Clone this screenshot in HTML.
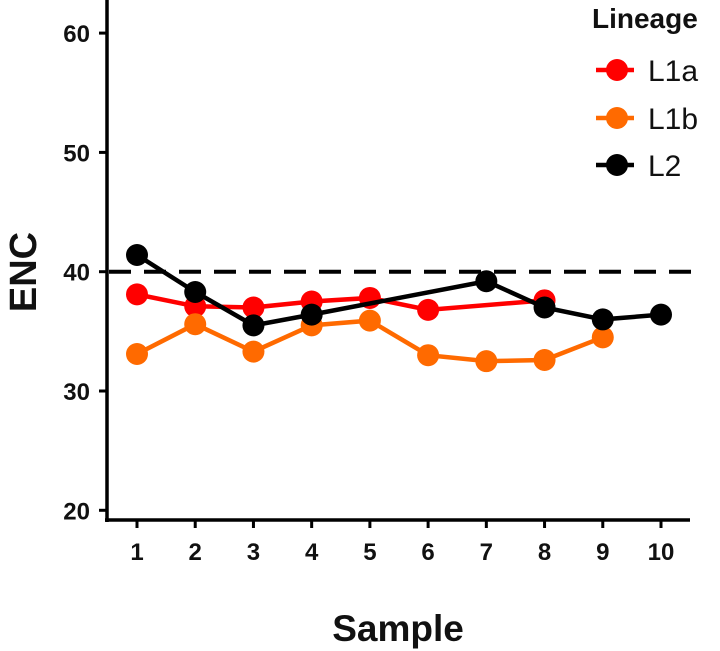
<!DOCTYPE html>
<html><head><meta charset="utf-8"><style>
html,body{margin:0;padding:0;background:#fff;}
svg{display:block;font-family:"Liberation Sans",Arial,sans-serif;}
</style></head><body>
<svg id="chart" width="720" height="651" viewBox="0 0 720 651"></svg>
<script>
const samples = [1,2,3,4,5,6,7,8,9,10];
const yTicks = [20,30,40,50,60];
const l1a = [38.1,37.1,37.0,37.5,37.8,36.8,null,37.6,null,null];
const l1b = [33.1,35.6,33.3,35.5,35.9,33.0,32.5,32.6,34.5,null];
const l2 = [41.4,38.3,35.5,36.4,null,null,39.2,37.0,36.0,36.4];
const refLine = 40;
const seriesNames = ["L1a","L1b","L2"];
const seriesColors = ["#ff0000","#ff6a00","#000000"];

const svg = document.getElementById('chart');
const NS = 'http://www.w3.org/2000/svg';
function x(s){ return 137 + (s-1)*(661-137)/9; }
function y(v){ return 391 - (v-30)*11.93; }
function mk(tag, attrs){ const e=document.createElementNS(NS,tag); for(const k in attrs) e.setAttribute(k,attrs[k]); svg.appendChild(e); return e; }

let e = mk('line',{x1:107,y1:0,x2:107,y2:522,stroke:'#000','stroke-width':3.5});


e = mk('line',{x1:105,y1:520,x2:690,y2:520,stroke:'#000','stroke-width':3.5});



yTicks.forEach(t=>{
  let l = mk('line',{x1:99,y1:y(t),x2:107,y2:y(t),stroke:'#000','stroke-width':3});
  
  
  let tx = mk('text',{x:90,y:y(t)+9,'text-anchor':'end','font-size':24,'font-weight':'bold',fill:'#111'});
  tx.textContent = t;
  
  
});
samples.forEach(s=>{
  let l = mk('line',{x1:x(s),y1:520,x2:x(s),y2:528,stroke:'#000','stroke-width':3});
  
  
  let tx = mk('text',{x:x(s),y:560,'text-anchor':'middle','font-size':24,'font-weight':'bold',fill:'#111'});
  tx.textContent = s;
  
  
});

e = mk('line',{x1:109,y1:y(refLine),x2:692,y2:y(refLine),stroke:'#000','stroke-width':4,'stroke-dasharray':'22,13'});



e = mk('text',{x:0,y:0,'text-anchor':'middle','font-size':38,'font-weight':'bold',fill:'#111',transform:'translate(36,272) rotate(-90)'});
e.textContent='ENC';


e = mk('text',{x:398,y:641,'text-anchor':'middle','font-size':37,'font-weight':'bold',fill:'#111'});
e.textContent='Sample';



const all = [l1a,l1b,l2];
all.forEach((vals,i)=>{
  const pts = [];
  vals.forEach((v,j)=>{ if(v!==null) pts.push([x(samples[j]),y(v)]); });
  let p = mk('polyline',{points:pts.map(q=>q.join(',')).join(' '),fill:'none',stroke:seriesColors[i],'stroke-width':4.5});
  
  
  pts.forEach(q=>{
    let c = mk('circle',{cx:q[0],cy:q[1],r:11,fill:seriesColors[i]});
    
    
  });
});

e = mk('text',{x:592,y:28,'font-size':28,'font-weight':'bold',fill:'#111'});
e.textContent='Lineage';


const legY = [70,118,165];
seriesNames.forEach((n,i)=>{
  let l = mk('line',{x1:596,y1:legY[i],x2:634,y2:legY[i],stroke:seriesColors[i],'stroke-width':4.5});
  
  
  let c = mk('circle',{cx:617,cy:legY[i],r:11,fill:seriesColors[i]});
  
  
  let t = mk('text',{x:648,y:legY[i]+11,'font-size':30,fill:'#111'});
  t.textContent=n;
  
  
});
</script>
</body></html>
